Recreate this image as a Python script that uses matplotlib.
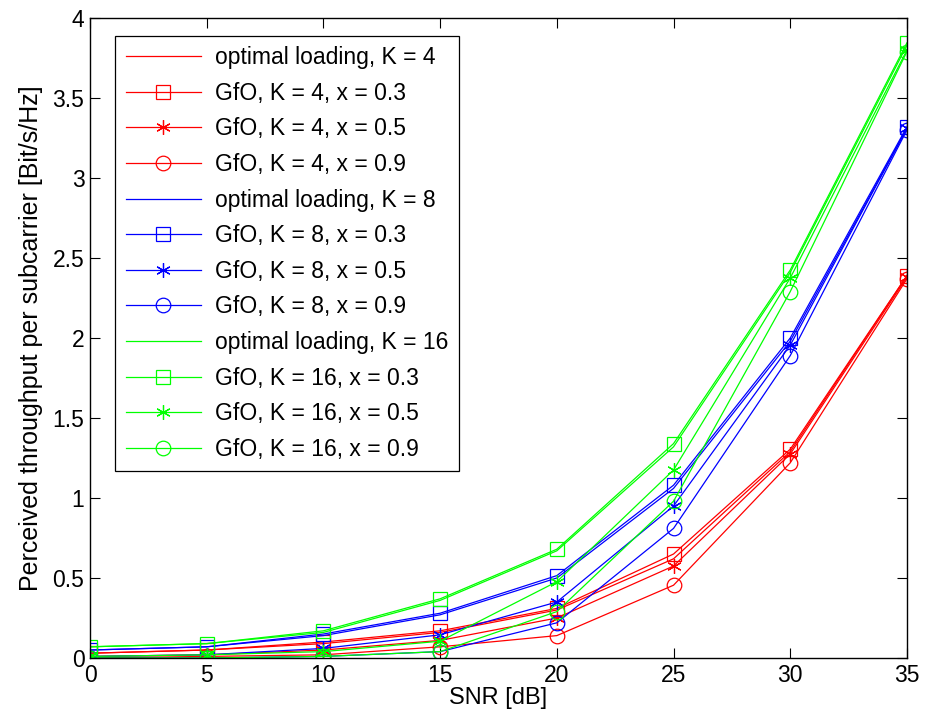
import numpy as np
import matplotlib.pyplot as plt

plt.rcParams['font.family'] = ['Liberation Sans', 'DejaVu Sans']

snr = [0, 5, 10, 15, 20, 25, 30, 35]

# K = 4
opt_k4 = [0.03, 0.05, 0.09, 0.16, 0.30, 0.62, 1.29, 2.39]
gfo_k4_x03 = [0.03, 0.05, 0.10, 0.17, 0.31, 0.65, 1.305, 2.39]
gfo_k4_x05 = [0.01, 0.02, 0.05, 0.11, 0.25, 0.575, 1.275, 2.38]
gfo_k4_x09 = [0.00, 0.01, 0.02, 0.07, 0.14, 0.455, 1.22, 2.37]

# K = 8
opt_k8 = [0.05, 0.07, 0.14, 0.27, 0.50, 1.06, 1.98, 3.31]
gfo_k8_x03 = [0.05, 0.07, 0.15, 0.28, 0.515, 1.08, 2.00, 3.32]
gfo_k8_x05 = [0.01, 0.02, 0.06, 0.145, 0.35, 0.95, 1.955, 3.31]
gfo_k8_x09 = [0.00, 0.00, 0.01, 0.04, 0.22, 0.81, 1.89, 3.30]

# K = 16
opt_k16 = [0.07, 0.09, 0.16, 0.36, 0.67, 1.32, 2.41, 3.83]
gfo_k16_x03 = [0.07, 0.09, 0.17, 0.37, 0.68, 1.34, 2.425, 3.845]
gfo_k16_x05 = [0.01, 0.02, 0.04, 0.105, 0.477, 1.175, 2.375, 3.80]
gfo_k16_x09 = [0.00, 0.00, 0.01, 0.04, 0.29, 0.98, 2.29, 3.79]

groups = [
    ('4', '#ff0000', opt_k4, [gfo_k4_x03, gfo_k4_x05, gfo_k4_x09]),
    ('8', '#0000ff', opt_k8, [gfo_k8_x03, gfo_k8_x05, gfo_k8_x09]),
    ('16', '#00ff00', opt_k16, [gfo_k16_x03, gfo_k16_x05, gfo_k16_x09]),
]
x_vals = ['0.3', '0.5', '0.9']
markers = ['s', (6, 2, 0), 'o']
fs = 16.5

fig = plt.figure(figsize=(9.25, 7.25), dpi=100)
ax = fig.add_axes([0.0973, 0.0924, 0.8832, 0.8828])

for k, col, opt, gfo in groups:
    ax.plot(snr, opt, color=col, lw=0.9, label='optimal loading, K = ' + k)
    for xv, mk, vals in zip(x_vals, markers, gfo):
        ax.plot(snr, vals, color=col, lw=0.9, marker=mk, markersize=10.5,
                markerfacecolor='none', markeredgecolor=col, markeredgewidth=0.9,
                label='GfO, K = %s, x = %s' % (k, xv))

ax.set_xlim(0, 35)
ax.set_ylim(0, 4)
ax.set_xticks(np.arange(0, 36, 5))
ax.set_yticks(np.arange(0, 4.01, 0.5))
ax.set_yticklabels(['0', '0.5', '1', '1.5', '2', '2.5', '3', '3.5', '4'])
ax.tick_params(direction='in', top=True, right=True, labelsize=fs, length=7, width=0.8, pad=4)
for sp in ax.spines.values():
    sp.set_linewidth(1.0)

ax.set_xlabel('SNR [dB]', fontsize=17, labelpad=0)
ax.set_ylabel('Perceived throughput per subcarrier [Bit/s/Hz]', fontsize=18, labelpad=7)

leg = ax.legend(loc='upper left', bbox_to_anchor=(0.031, 0.972), fontsize=fs,
                handlelength=3.3, labelspacing=0.55, handletextpad=0.6,
                borderpad=0.45, borderaxespad=0, fancybox=False, framealpha=1,
                edgecolor='black', markerscale=1.0)
leg.get_frame().set_linewidth(0.9)

fig.savefig('out.png', dpi=100)
